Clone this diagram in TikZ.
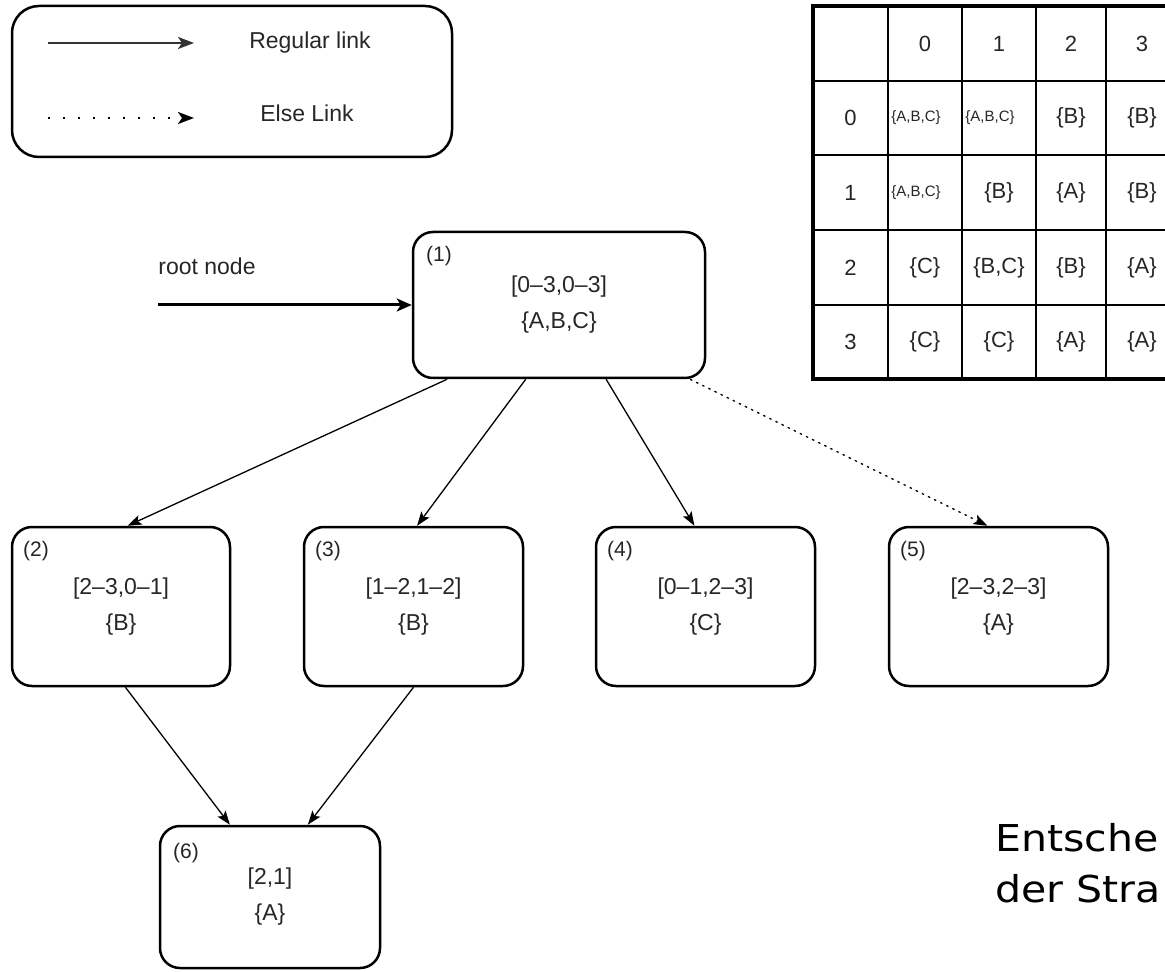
\documentclass[tikz,border=0pt]{standalone}
\usepackage{fontspec}
\setmainfont{Liberation Sans}
\newfontfamily\entfont[FakeStretch=1.11]{DejaVu Sans}
\usetikzlibrary{arrows.meta,calc}

\tikzset{
  treebox/.style={draw, line width=1.25pt, rounded corners=10pt, align=center, inner sep=0pt,
    font=\fontsize{11.5}{18}\selectfont, text=black!85},
  nodenum/.style={anchor=north west, inner sep=0pt, font=\fontsize{10.5}{12}\selectfont, text=black!85},
  link/.style={-{Stealth[length=7pt,width=5pt,inset=1.5pt]}, line width=0.65pt},
  elselink/.style={link, dash pattern=on 1.2pt off 2.2pt},
  lbl/.style={font=\fontsize{11.5}{14}\selectfont, inner sep=0pt, text=black!85},
  cell/.style={font=\fontsize{11}{13}\selectfont, inner sep=0pt, text=black!85},
  tinycell/.style={font=\fontsize{7.5}{8}\selectfont, inner sep=0pt, text=black!85},
  legtip/.style={-{Stealth[length=8pt,width=6pt,inset=2pt]}},
}

\begin{document}
\begin{tikzpicture}[x=0.5pt, y=-0.5pt]
\useasboundingbox (0,0) rectangle (1165,972);
\clip (0,0) rectangle (1165,972);

% Legend
\node[draw, line width=1.25pt, rounded corners=13.5pt, minimum width=220pt, minimum height=75.5pt] (legend) at (232,81.5) {};
\coordinate (regA) at (48,43);
\coordinate (regB) at (194,43);
\coordinate (elseA) at (48,118);
\coordinate (elseB) at (194,118);
\draw[legtip, line width=1.1pt, black!80] (regA) -- (regB);
\draw[legtip, line width=1.1pt, dash pattern=on 1pt off 6.5pt] (elseA) -- (elseB);
\node[lbl] (reglbl) at (310,43) {Regular link};
\node[lbl] (elselbl) at (307,113) {Else Link};

% Table
\draw[line width=0.9pt] \foreach \x in {962,1036,1106} {(\x,6) -- (\x,379)};
\draw[line width=0.9pt] \foreach \y in {155,230,305} {(813,\y) -- (1180,\y)};
\draw[line width=1.4pt] (888,6) -- (888,379) (813,81) -- (1180,81);
\draw[line width=1.6pt] (813,6) rectangle (1180,379);
\foreach \cx/\t in {925/0, 999/1, 1071/2, 1142/3}
  \node[cell] (head-\t) at (\cx,43.5) {\t};
\foreach \ry/\t in {118/0, 192.5/1, 267.5/2, 342/3}
  \node[cell] (row-\t) at (850.5,\ry) {\t};
% row 0
\node[tinycell] (c00) at (916,118) {\{A,B,C\}};
\node[tinycell] (c01) at (990,118) {\{A,B,C\}};
\node[cell] (c02) at (1071,118) {\{B\}};
\node[cell] (c03) at (1142,118) {\{B\}};
% row 1
\node[tinycell] (c10) at (916,192.5) {\{A,B,C\}};
\node[cell] (c11) at (999,192.5) {\{B\}};
\node[cell] (c12) at (1071,192.5) {\{A\}};
\node[cell] (c13) at (1142,192.5) {\{B\}};
% row 2
\node[cell] (c20) at (925,267.5) {\{C\}};
\node[cell] (c21) at (999,267.5) {\{B,C\}};
\node[cell] (c22) at (1071,267.5) {\{B\}};
\node[cell] (c23) at (1142,267.5) {\{A\}};
% row 3
\node[cell] (c30) at (925,342) {\{C\}};
\node[cell] (c31) at (999,342) {\{C\}};
\node[cell] (c32) at (1071,342) {\{A\}};
\node[cell] (c33) at (1142,342) {\{A\}};

% Tree nodes
\node[treebox, minimum width=146pt, minimum height=73pt] (n1) at (559,305) {[0--3,0--3]\\\{A,B,C\}};
\node[treebox, minimum width=109pt, minimum height=79.5pt] (n2) at (121,606.5) {[2--3,0--1]\\\{B\}};
\node[treebox, minimum width=109.5pt, minimum height=79.5pt] (n3) at (413.5,606.5) {[1--2,1--2]\\\{B\}};
\node[treebox, minimum width=109.5pt, minimum height=79.5pt] (n4) at (705.5,606.5) {[0--1,2--3]\\\{C\}};
\node[treebox, minimum width=109.5pt, minimum height=79.5pt] (n5) at (998.5,606.5) {[2--3,2--3]\\\{A\}};
\node[treebox, minimum width=110pt, minimum height=71pt] (n6) at (270,897) {[2,1]\\\{A\}};

% Node numbers
\node[nodenum] (num1) at ($(n1.north west)+(14,15)$) {(1)};
\node[nodenum] (num2) at ($(n2.north west)+(12,15)$) {(2)};
\node[nodenum] (num3) at ($(n3.north west)+(12,15)$) {(3)};
\node[nodenum] (num4) at ($(n4.north west)+(12,15)$) {(4)};
\node[nodenum] (num5) at ($(n5.north west)+(12,15)$) {(5)};
\node[nodenum] (num6) at ($(n6.north west)+(14,18)$) {(6)};

% Root arrow
\coordinate (rootstart) at (158,305);
\node[lbl, anchor=west] (rootlbl) at (158,266) {root node};
\draw[-{Stealth[length=7.5pt,width=6.5pt,inset=2pt]}, line width=1.5pt] (rootstart) -- (n1.west);

% Links
\draw[link] ($(n1.south west)!.12!(n1.south east)$) -- ($(n2.north west)!.53!(n2.north east)$);
\draw[link] ($(n1.south west)!.387!(n1.south east)$) -- ($(n3.north west)!.516!(n3.north east)$);
\draw[link] ($(n1.south west)!.66!(n1.south east)$) -- ($(n4.north west)!.45!(n4.north east)$);
\draw[elselink] ($(n1.south west)!.945!(n1.south east)$) -- ($(n5.north west)!.45!(n5.north east)$);
\draw[link] ($(n2.south west)!.52!(n2.south east)$) -- ($(n6.north west)!.32!(n6.north east)$);
\draw[link] ($(n3.south west)!.50!(n3.south east)$) -- ($(n6.north west)!.67!(n6.north east)$);

% Caption text
\node[anchor=base west, inner sep=0pt, font=\entfont\fontsize{18.5}{22}\selectfont] (ent1) at (995,851) {Entsche};
\node[anchor=base west, inner sep=0pt, font=\entfont\fontsize{18.5}{22}\selectfont] (ent2) at (995,902) {der Stra};
\end{tikzpicture}
\end{document}
